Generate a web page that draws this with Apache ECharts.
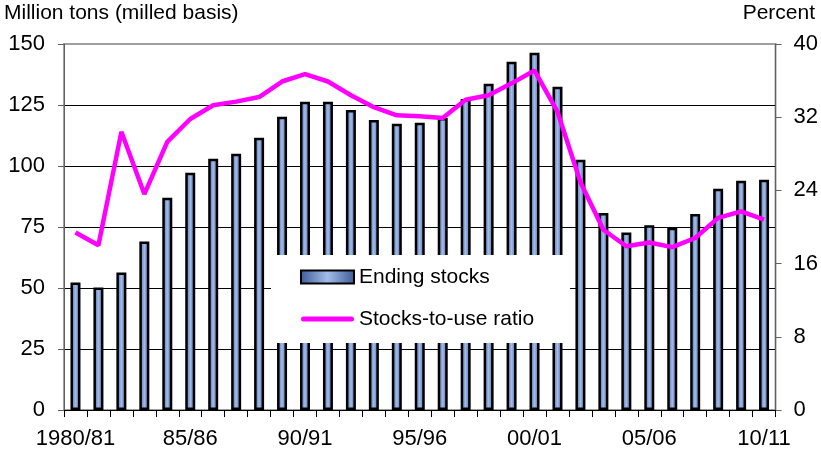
<!DOCTYPE html>
<html>
<head>
  <meta charset="utf-8" />
  <title>Rice ending stocks</title>
  <script src="https://cdn.jsdelivr.net/npm/echarts@6/dist/echarts.min.js"></script>
</head>
<body style="margin: 0; background: #ffffff">
  <div id="main" style="width: 821px; height: 457px;"></div>
  <script type="text/javascript">
    var years = ['1980/81', '81/82', '82/83', '83/84', '84/85', '85/86', '86/87', '87/88', '88/89', '89/90',
                 '90/91', '91/92', '92/93', '93/94', '94/95', '95/96', '96/97', '97/98', '98/99', '99/00',
                 '00/01', '01/02', '02/03', '03/04', '04/05', '05/06', '06/07', '07/08', '08/09', '09/10', '10/11'];
    // million tons, milled basis
    var endingStocks = [52.3, 50.2, 56.4, 69.1, 87.0, 97.2, 103.0, 105.0, 111.6, 120.2,
                        126.3, 126.3, 123.0, 118.9, 117.3, 117.7, 119.7, 127.5, 133.7, 142.7,
                        146.4, 132.5, 102.6, 80.7, 72.7, 75.7, 74.7, 80.3, 90.7, 94.0, 94.4];
    // percent
    var stocksToUse = [19.4, 18.0, 30.4, 23.6, 29.3, 31.8, 33.3, 33.7, 34.2, 35.9,
                       36.7, 35.9, 34.4, 33.1, 32.2, 32.1, 31.9, 33.9, 34.4, 35.7,
                       37.1, 32.6, 24.9, 19.7, 17.9, 18.3, 17.8, 18.8, 21.0, 21.7, 20.8];

    var font = 'Liberation Sans, Arial, sans-serif';
    var myChart = echarts.init(document.getElementById('main'));

    var barFill = new echarts.graphic.LinearGradient(0, 0, 1, 0, [
        {offset: 0, color: '#3d5a98'},
        {offset: 0.5, color: '#a2bdea'},
        {offset: 1, color: '#3d5a98'}
    ]);

    var option = {
        animation: false,
        backgroundColor: '#ffffff',
        textStyle: {fontFamily: font, color: '#000'},
        title: [
            {text: 'Million tons (milled basis)', left: 4, top: 3, padding: 0,
             textStyle: {fontSize: 21, fontWeight: 'normal', fontFamily: font, color: '#000'}},
            {text: 'Percent', right: 6, top: 3, padding: 0,
             textStyle: {fontSize: 21, fontWeight: 'normal', fontFamily: font, color: '#000'}}
        ],
        legend: {
            orient: 'vertical',
            left: 271, top: 255,
            padding: [11, 36, 13, 29],
            itemGap: 20,
            itemWidth: 53, itemHeight: 13,
            backgroundColor: '#ffffff',
            textStyle: {fontSize: 21, lineHeight: 22, fontFamily: font, color: '#000'},
            data: [
                {name: 'Ending stocks', icon: 'rect'},
                {name: 'Stocks-to-use ratio', icon: 'path://M2.5,0 L50.5,0 A2.5,2.5 0 0 1 50.5,5 L2.5,5 A2.5,2.5 0 0 1 2.5,0 Z'}
            ]
        },
        grid: {left: 64, right: 45, top: 44, bottom: 47, show: true, borderColor: '#a0a0a0', borderWidth: 2, backgroundColor: 'transparent'},
        xAxis: {
            type: 'category',
            data: years,
            boundaryGap: true,
            axisLine: {lineStyle: {color: '#000', width: 1}},
            axisTick: {show: true, interval: 0, length: 7, lineStyle: {color: '#000'}},
            axisLabel: {interval: 4, fontSize: 22, margin: 18, color: '#000', fontFamily: font}
        },
        yAxis: [
            {
                type: 'value', min: 0, max: 150, interval: 25,
                axisLine: {show: true, lineStyle: {color: '#606060'}},
                axisTick: {show: true, length: 6, lineStyle: {color: '#606060'}},
                axisLabel: {fontSize: 22, margin: 19, color: '#000', fontFamily: font},
                splitLine: {show: true, lineStyle: {color: ['#000', '#000', '#000', '#000', '#000', '#000', '#a0a0a0'], width: 1}}
            },
            {
                type: 'value', min: 0, max: 40, interval: 8,
                axisLine: {show: true, lineStyle: {color: '#606060'}},
                axisTick: {show: true, length: 6, lineStyle: {color: '#606060'}},
                axisLabel: {fontSize: 22, margin: 18, color: '#000', fontFamily: font},
                splitLine: {show: false}
            }
        ],
        series: [
            {
                name: 'Ending stocks', type: 'bar', yAxisIndex: 0,
                barWidth: 10,
                data: endingStocks,
                itemStyle: {color: barFill, borderColor: '#000', borderWidth: 2.5}
            },
            {
                name: 'Stocks-to-use ratio', type: 'line', yAxisIndex: 1,
                data: stocksToUse,
                symbol: 'none',
                lineStyle: {color: '#ff00ff', width: 4.5},
                itemStyle: {color: '#ff00ff'}
            }
        ]
    };
    myChart.setOption(option);
  </script>
</body>
</html>
